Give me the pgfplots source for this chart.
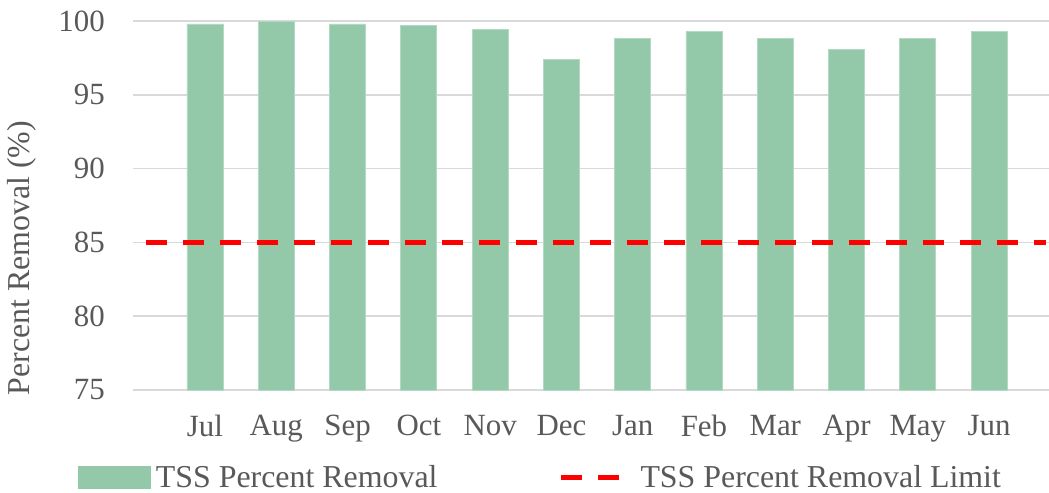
\documentclass[border=0pt]{standalone}
\usepackage{pgfplots}
\pgfplotsset{compat=1.18}
\usepackage{fontspec}
\setmainfont{Liberation Serif}
\definecolor{barcol}{RGB}{147,201,168}
\definecolor{gridcol}{RGB}{217,217,217}
\definecolor{txtcol}{RGB}{89,89,89}
\begin{document}
\begin{tikzpicture}
\begin{axis}[
  name=ax,
  scale only axis,
  width=916bp, height=369bp,
  xmin=-1.01, xmax=11.84,
  ymin=75, ymax=100,
  ytick={75,80,85,90,95,100},
  xtick={0,...,11},
  xticklabels={Jul,Aug,Sep,Oct,Nov,Dec,Jan,Feb,Mar,Apr,May,Jun},
  axis line style={draw=none},
  major tick length=0pt,
  ymajorgrids,
  grid style={gridcol, line width=1.5bp},
  /pgf/number format/assume math mode=true,
  tick label style={font=\fontsize{31}{36}\selectfont, text=txtcol},
  yticklabel style={inner sep=0pt, xshift=-28bp},
  xticklabel style={inner sep=0pt, yshift=-25bp},
  ylabel={Percent Removal (\%)},
  ylabel style={font=\fontsize{32}{38}\selectfont, text=txtcol, at={(axis description cs:-0.1212,0.357)}, anchor=center},
  legend columns=2,
  legend style={draw=none, fill=none, inner sep=0pt, at={(axis description cs:0,0)}, anchor=west, xshift=-55bp, yshift=-87bp,
    font=\fontsize{32}{36}\selectfont, text=txtcol,
    nodes={inner sep=0pt},
    /tikz/every odd column/.append style={column sep=5bp},
    /tikz/every even column/.append style={column sep=121bp}},
]
\addplot[ybar, bar width=36bp, fill=barcol, draw=barcol!70!white, line width=0.75bp,
  legend image code/.code={\fill[barcol] (0bp,-11bp) rectangle (72bp,11bp);}]
  coordinates {(0,99.8) (1,99.95) (2,99.8) (3,99.7) (4,99.4) (5,97.4) (6,98.8) (7,99.3) (8,98.8) (9,98.1) (10,98.8) (11,99.3)};
\addlegendentry{TSS Percent Removal}
\addplot[red, line width=5bp, dash pattern=on 21bp off 16bp,
  legend image code/.code={\draw[red, line width=5bp] (0bp,0bp) -- (21bp,0bp); \draw[red, line width=5bp] (37bp,0bp) -- (58bp,0bp); \path (72bp,0bp);}]
  coordinates {(-0.83,85) (11.8,85)};
\addlegendentry{TSS Percent Removal Limit}
\end{axis}
\pgfresetboundingbox
\path[use as bounding box] ([shift={(-133bp,-103bp)}]ax.south west) rectangle ([shift={(0bp,21bp)}]ax.north east);
\end{tikzpicture}
\end{document}
